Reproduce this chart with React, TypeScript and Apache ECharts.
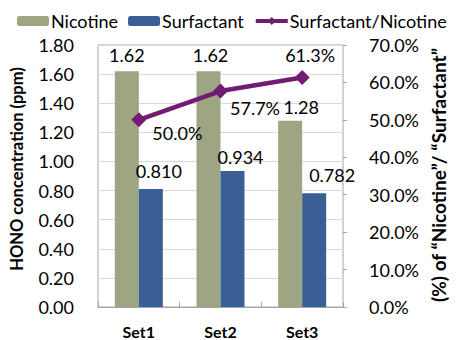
import React, { useEffect, useRef } from "react";
import * as echarts from "echarts";

const categories = ["Set1", "Set2", "Set3"];
const nicotine = [1.62, 1.62, 1.28];
const surfactant = [0.81, 0.934, 0.782];
const ratio = [50.0, 57.7, 61.3];
const leftTicks = { min: 0, max: 1.8, interval: 0.2 };
const rightTicks = { min: 0, max: 70, interval: 10 };
const leftName = "HONO concentration (ppm)";
const rightName = "(%) of \u201CNicotine\u201D/ \u201CSurfactant\u201D";

const nicLabelOffsets = [[0, 0], [2, 0], [11, 2]];
const surLabelOffsets = [[8, 0], [8, 4], [18, 0]];
const ratioLabelPos = [
  { position: "right", offset: [0, 13] },
  { position: "right", offset: [-4, 17] },
  { position: "top", offset: [8, 0] },
];

const FONT = "Lato";
const PURPLE = "#721B73";

export default function App() {
  const ref = useRef<HTMLDivElement>(null);
  useEffect(() => {
    const chart = echarts.init(ref.current!, null, { renderer: "svg" });
    chart.setOption({
      animation: false,
      textStyle: { fontFamily: FONT },
      legend: {
        data: [
          { name: "Nicotine" },
          { name: "Surfactant" },
          { name: "Surfactant/Nicotine", lineStyle: { width: 4, color: PURPLE } },
        ],
        left: 12,
        top: 7,
        itemWidth: 32,
        itemHeight: 10,
        itemGap: 10,
        textStyle: { fontFamily: FONT, fontSize: 18, color: "#000", padding: [0, 0, 0, -3] },
      },
      graphic: [
        {
          type: "text",
          x: 17,
          y: 169,
          rotation: Math.PI / 2,
          style: {
            text: leftName,
            fontFamily: FONT,
            fontSize: 16.5,
            fontWeight: "bold",
            fill: "#000",
            textAlign: "center",
            textVerticalAlign: "middle",
          },
        },
        {
          type: "text",
          x: 438,
          y: 175,
          rotation: Math.PI / 2,
          style: {
            text: rightName,
            fontFamily: FONT,
            fontSize: 19,
            fontWeight: "bold",
            fill: "#000",
            textAlign: "center",
            textVerticalAlign: "middle",
          },
        },
      ],
      grid: { left: 98, right: 114, top: 45, bottom: 33, show: true, borderColor: "#A6A6A6", borderWidth: 1 },
      xAxis: {
        type: "category",
        data: categories,
        axisLine: { show: true, lineStyle: { color: "#A6A6A6" } },
        axisTick: { show: true, inside: true, length: 5, lineStyle: { color: "#A6A6A6" } },
        axisLabel: { fontFamily: FONT, fontSize: 16, fontWeight: "bold", color: "#000", margin: 16 },
      },
      yAxis: [
        {
          type: "value",
          ...leftTicks,
          axisLine: { show: false },
          axisTick: { show: false },
          axisLabel: { fontFamily: FONT, fontSize: 18, color: "#000", margin: 24, formatter: (v: number) => v.toFixed(2) },
          splitLine: { show: true, lineStyle: { color: "#D9D9D9" } },
        },
        {
          type: "value",
          ...rightTicks,
          position: "right",
          axisLine: { show: false },
          axisTick: { show: true, length: 4, lineStyle: { color: "#A6A6A6" } },
          axisLabel: { fontFamily: FONT, fontSize: 18, color: "#000", margin: 26, formatter: (v: number) => v.toFixed(1) + "%" },
          splitLine: { show: false },
        },
      ],
      series: [
        {
          name: "Nicotine",
          type: "bar",
          barWidth: 24,
          barGap: "0%",
          itemStyle: { color: "#9DA583" },
          data: nicotine.map((v, i) => ({ value: v, label: { offset: nicLabelOffsets[i] } })),
          label: {
            show: true,
            position: "top",
            distance: 7,
            fontFamily: FONT,
            fontSize: 18,
            color: "#000",
            formatter: (p: any) => p.value.toFixed(2),
          },
        },
        {
          name: "Surfactant",
          type: "bar",
          barWidth: 24,
          itemStyle: { color: "#3A5F96" },
          data: surfactant.map((v, i) => ({ value: v, label: { offset: surLabelOffsets[i] } })),
          label: {
            show: true,
            position: "top",
            distance: 9,
            fontFamily: FONT,
            fontSize: 18,
            color: "#000",
            formatter: (p: any) => p.value.toFixed(3),
          },
        },
        {
          name: "Surfactant/Nicotine",
          type: "line",
          yAxisIndex: 1,
          symbol: "diamond",
          symbolSize: 15,
          lineStyle: { color: PURPLE, width: 4.5 },
          itemStyle: { color: PURPLE },
          data: ratio.map((v, i) => ({ value: v, label: ratioLabelPos[i] })),
          label: {
            show: true,
            distance: 6,
            fontFamily: FONT,
            fontSize: 18,
            color: "#000",
            formatter: (p: any) => p.value.toFixed(1) + "%",
          },
        },
      ],
    });
    return () => chart.dispose();
  }, []);
  return <div ref={ref} style={{ position: "fixed", left: 0, top: 0, width: 457, height: 340, background: "#fff" }} />;
}
